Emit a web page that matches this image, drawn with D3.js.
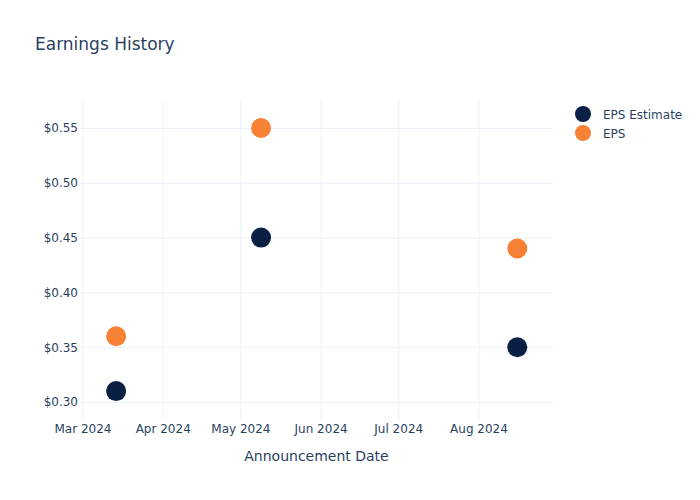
<!DOCTYPE html>
<html>
<head>
<meta charset="utf-8">
<script src="https://cdn.jsdelivr.net/npm/d3@7"></script>
<style>
  body { margin: 0; background: #fff; }
  svg { display: block; font-family: "DejaVu Sans", Verdana, sans-serif; }
</style>
</head>
<body>
<div id="chart"></div>
<script>
const dates = ["2024-03-14", "2024-05-09", "2024-08-16"];
const epsEstimate = [0.31, 0.45, 0.35];
const eps = [0.36, 0.55, 0.44];
const seriesNames = ["EPS Estimate", "EPS"];
const seriesColors = ["#0a1f44", "#f78134"];
const xTickLabels = ["Mar 2024", "Apr 2024", "May 2024", "Jun 2024", "Jul 2024", "Aug 2024"];
const xTickDates = ["2024-03-01", "2024-04-01", "2024-05-01", "2024-06-01", "2024-07-01", "2024-08-01"];
const yTicks = [0.30, 0.35, 0.40, 0.45, 0.50, 0.55];

const W = 700, H = 500;
const plot = { left: 80, right: 553, top: 100, bottom: 420 };
const textColor = "#2a3f5f";
const gridColor = "#ebf0f8";
const fontFam = '"DejaVu Sans", Verdana, sans-serif';

const parse = d3.utcParse("%Y-%m-%d");
const svg = d3.select("#chart").append("svg").attr("width", W).attr("height", H);

const x = d3.scaleUtc()
  .domain([new Date(Date.UTC(2024, 1, 29, 1)), new Date(Date.UTC(2024, 7, 29, 19))])
  .range([plot.left, plot.right]);
const y = d3.scaleLinear()
  .domain([0.2836, 0.5755])
  .range([plot.bottom, plot.top]);

// grid
const xAxis = d3.axisBottom(x)
  .tickValues(xTickDates.map(parse))
  .tickFormat((d, i) => xTickLabels[i])
  .tickSize(-(plot.bottom - plot.top))
  .tickPadding(4.5);
const gx = svg.append("g").attr("transform", `translate(0,${plot.bottom})`).call(xAxis);
gx.attr("font-family", fontFam).attr("font-size", 12);
gx.select(".domain").remove();
gx.selectAll("line").attr("stroke", gridColor);
gx.selectAll("text").attr("fill", textColor);

const yAxis = d3.axisLeft(y)
  .tickValues(yTicks)
  .tickFormat(d => "$" + d3.format(".2f")(d))
  .tickSize(-(plot.right - plot.left))
  .tickPadding(2);
const gy = svg.append("g").attr("transform", `translate(${plot.left},0)`).call(yAxis);
gy.attr("font-family", fontFam).attr("font-size", 12);
gy.select(".domain").remove();
gy.selectAll("line").attr("stroke", gridColor);
gy.selectAll("text").attr("fill", textColor);

// points
const series = [epsEstimate, eps];
series.forEach((vals, s) => {
  svg.append("g").selectAll("circle")
    .data(vals)
    .join("circle")
    .attr("cx", (d, i) => x(parse(dates[i])))
    .attr("cy", d => y(d))
    .attr("r", 10)
    .attr("fill", seriesColors[s]);
});

// title
svg.append("text").attr("x", 35).attr("y", 50)
  .attr("fill", textColor).attr("font-size", 17).text("Earnings History");

// x axis title
svg.append("text").attr("x", (plot.left + plot.right) / 2).attr("y", 461)
  .attr("text-anchor", "middle").attr("fill", textColor).attr("font-size", 14)
  .text("Announcement Date");

// legend
const lg = svg.append("g");
seriesNames.forEach((name, i) => {
  const yy = 114 + i * 19;
  lg.append("circle").attr("cx", 583).attr("cy", yy).attr("r", 8).attr("fill", seriesColors[i]);
  lg.append("text").attr("x", 603).attr("y", yy + 4.5)
    .attr("fill", textColor).attr("font-size", 12).text(name);
});
</script>
</body>
</html>
